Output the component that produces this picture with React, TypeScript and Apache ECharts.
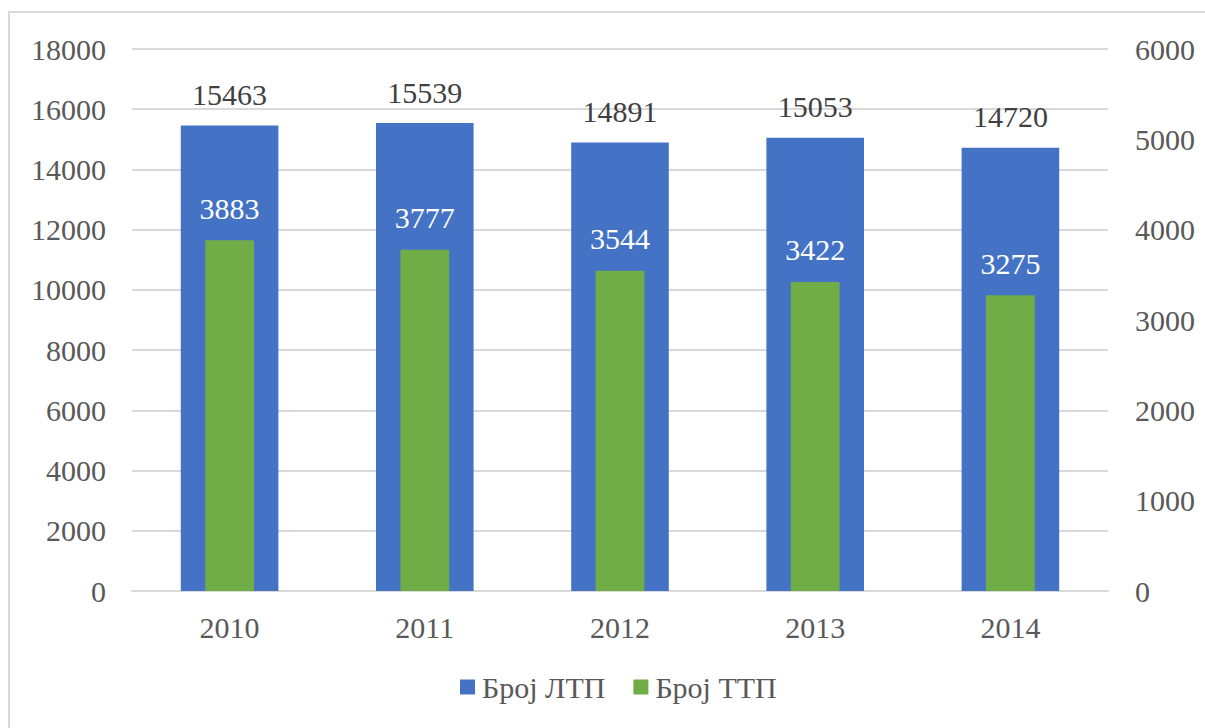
import React, { useEffect, useRef } from "react";
import * as echarts from "echarts";

const years = ["2010", "2011", "2012", "2013", "2014"];
const ltp = [15463, 15539, 14891, 15053, 14720];
const ttp = [3883, 3777, 3544, 3422, 3275];
const seriesNames = ["Број ЛТП", "Број ТТП"];

const FONT = "Liberation Serif";
const FS = 30;

export default function App() {
  const ref = useRef<HTMLDivElement>(null);
  useEffect(() => {
    if (!ref.current) return;
    document.body.style.margin = "0";
    document.body.style.overflow = "hidden";
    const chart = echarts.init(ref.current, undefined, { renderer: "svg" });
    const plain = (v: number) => String(v);
    chart.setOption({
      animation: false,
      textStyle: { fontFamily: FONT },
      graphic: [
        {
          type: "polyline",
          shape: { points: [[9, 728], [9, 12], [1205, 12]] },
          style: { stroke: "#d9d9d9", lineWidth: 2, fill: "none" },
          silent: true,
        },
      ],
      legend: {
        data: seriesNames,
        bottom: 21,
        left: 455,
        itemWidth: 15,
        itemHeight: 15,
        itemGap: 28,
        icon: "rect",
        textStyle: { fontFamily: FONT, fontSize: FS, color: "#595959", padding: [0, 0, 0, 2] },
      },
      grid: { left: 132, right: 97, top: 49, bottom: 137, containLabel: false },
      xAxis: [
        {
          type: "category",
          data: years,
          axisLine: { show: true, lineStyle: { color: "#d9d9d9", width: 2 } },
          axisTick: { show: false },
          axisLabel: { fontFamily: FONT, fontSize: FS, color: "#595959", margin: 21 },
        },
        {
          type: "category",
          data: years,
          show: false,
        },
      ],
      yAxis: [
        {
          type: "value",
          min: 0,
          max: 18000,
          interval: 2000,
          axisLine: { show: false },
          axisTick: { show: false },
          splitLine: { lineStyle: { color: "#d9d9d9", width: 2 } },
          axisLabel: { fontFamily: FONT, fontSize: FS, color: "#595959", margin: 26, formatter: plain },
        },
        {
          type: "value",
          min: 0,
          max: 6000,
          interval: 1000,
          axisLine: { show: false },
          axisTick: { show: false },
          splitLine: { show: false },
          axisLabel: { fontFamily: FONT, fontSize: FS, color: "#595959", margin: 27, formatter: plain },
        },
      ],
      series: [
        {
          name: seriesNames[0],
          type: "bar",
          xAxisIndex: 0,
          yAxisIndex: 0,
          data: ltp,
          barWidth: "50%",
          itemStyle: { color: "#4472c4" },
          label: {
            show: true,
            position: "top",
            distance: 16,
            fontFamily: FONT,
            fontSize: FS,
            color: "#404040",
          },
        },
        {
          name: seriesNames[1],
          type: "bar",
          xAxisIndex: 1,
          yAxisIndex: 1,
          data: ttp,
          barWidth: "25%",
          itemStyle: { color: "#70ad47" },
          label: {
            show: true,
            position: "top",
            distance: 17,
            fontFamily: FONT,
            fontSize: FS,
            color: "#ffffff",
          },
        },
      ],
    });
    return () => chart.dispose();
  }, []);
  return <div ref={ref} style={{ width: 1205, height: 728 }} />;
}
